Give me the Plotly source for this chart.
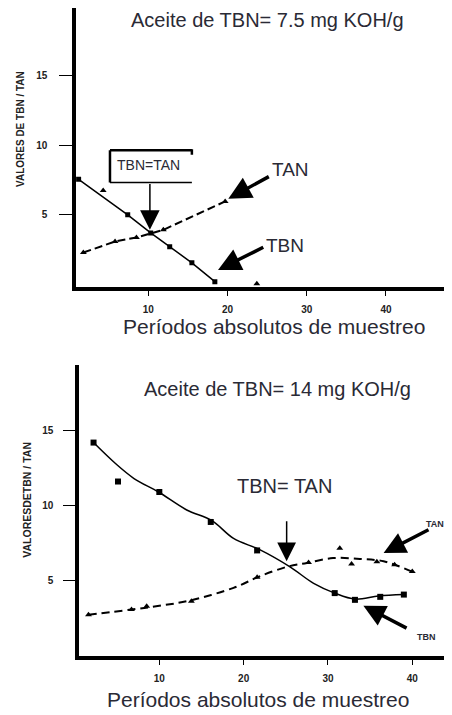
import plotly.graph_objects as go

# ---------------- data: top chart (TBN 7.5) ----------------
top_tbn_x = [1.2, 7.4, 10.3, 12.7, 15.5, 18.4]
top_tbn_y = [7.55, 5.0, 3.7, 2.7, 1.55, 0.2]
top_tbn_extra_x = [4.3, 23.7]
top_tbn_extra_y = [6.75, 0.05]
top_tan_x = [1.8, 5.8, 8.5, 11.9, 19.7]
top_tan_y = [2.29, 3.08, 3.37, 3.92, 5.96]

# ---------------- data: bottom chart (TBN 14) ----------------
bot_tbn_x = [2.2, 5.1, 10.0, 16.1, 21.6, 30.8, 33.2, 36.2, 39.0]
bot_tbn_y = [14.2, 11.6, 10.9, 8.9, 7.0, 4.15, 3.7, 3.9, 4.05]
bot_tbn_fit_x = [2.2, 4.8, 7.0, 9.9, 13.25, 16.2, 18.8, 21.9, 25.5, 28.3, 30.8, 33.2, 36.0, 39.0]
bot_tbn_fit_y = [14.2, 12.8, 11.8, 10.9, 9.7, 9.0, 7.8, 7.05, 5.9, 4.8, 4.15, 3.75, 3.95, 4.05]
bot_tan_x = [1.6, 6.7, 8.5, 13.8, 21.6, 27.7, 31.4, 32.8, 35.8, 37.9, 40.0]
bot_tan_y = [2.7, 3.05, 3.27, 3.6, 5.2, 6.2, 7.15, 6.1, 6.25, 6.05, 5.6]
bot_tan_fit_x = [1.6, 6.7, 10.0, 13.6, 18.8, 21.9, 25.3, 27.5, 30.6, 33.8, 36.6, 39.9]
bot_tan_fit_y = [2.7, 3.05, 3.3, 3.65, 4.5, 5.27, 5.93, 6.16, 6.49, 6.43, 6.27, 5.6]

x_ticks = [10, 20, 30, 40]
y_ticks = [5, 10, 15]

FONT = "Arial, Liberation Sans, sans-serif"
TXT = "#2a2a35"
OFF = 8                      # default page margin of the HTML body
W, H = 452 - OFF, 715 - OFF


def fx(px):
    return (px - OFF) / W


def fy(py):
    return 1 - (py - OFF) / H


fig = go.Figure()

# top chart traces
fig.add_trace(go.Scatter(x=top_tbn_x, y=top_tbn_y, mode="lines+markers",
                         line=dict(color="black", width=1.5),
                         marker=dict(symbol="square", size=5, color="black"),
                         xaxis="x", yaxis="y", showlegend=False))
fig.add_trace(go.Scatter(x=top_tbn_extra_x, y=top_tbn_extra_y, mode="markers",
                         marker=dict(symbol="triangle-up", size=6, color="black"),
                         xaxis="x", yaxis="y", showlegend=False))
fig.add_trace(go.Scatter(x=top_tan_x, y=top_tan_y, mode="lines+markers",
                         line=dict(color="black", width=2, dash="8px,4px"),
                         marker=dict(symbol="triangle-up", size=6, color="black"),
                         xaxis="x", yaxis="y", showlegend=False))

# bottom chart traces
fig.add_trace(go.Scatter(x=bot_tbn_fit_x, y=bot_tbn_fit_y, mode="lines",
                         line=dict(color="black", width=1.5, shape="spline"),
                         xaxis="x2", yaxis="y2", showlegend=False))
fig.add_trace(go.Scatter(x=bot_tbn_x, y=bot_tbn_y, mode="markers",
                         marker=dict(symbol="square", size=6, color="black"),
                         xaxis="x2", yaxis="y2", showlegend=False))
fig.add_trace(go.Scatter(x=bot_tan_fit_x, y=bot_tan_fit_y, mode="lines",
                         line=dict(color="black", width=2, dash="8px,5px", shape="spline"),
                         xaxis="x2", yaxis="y2", showlegend=False))
fig.add_trace(go.Scatter(x=bot_tan_x, y=bot_tan_y, mode="markers",
                         marker=dict(symbol="triangle-up", size=6, color="black"),
                         xaxis="x2", yaxis="y2", showlegend=False))

axis_common = dict(showgrid=False, zeroline=False, showline=True, linecolor="black",
                   linewidth=3.5, ticks="outside", tickcolor="black", tickwidth=1.2,
                   tickfont=dict(family=FONT, size=10, color="#222", weight="bold"))

fig.update_layout(
    width=W, height=H, margin=dict(l=0, r=0, t=0, b=0),
    paper_bgcolor="white", plot_bgcolor="white",
    xaxis=dict(domain=[fx(76), 1], range=[0.87, 48.34], tickvals=x_ticks, ticklen=6,
               ticklabelstandoff=5, anchor="y", **axis_common),
    yaxis=dict(domain=[fy(286.5), fy(8)], range=[-0.15, 19.85],
               tickvals=y_ticks, ticklen=13, ticklabelstandoff=10, anchor="x", **axis_common),
    xaxis2=dict(domain=[fx(79), 1], range=[0.474, 44.71], tickvals=x_ticks, ticklen=5,
                ticklabelstandoff=5, anchor="y2", **axis_common),
    yaxis2=dict(domain=[fy(656), fy(365)], range=[-0.05, 19.38], tickvals=y_ticks,
                ticklen=12, ticklabelstandoff=8, anchor="x2", **axis_common),
)

ann = []


def ptext(text, px, py, size, color=TXT, angle=0, weight="normal", xanchor="center"):
    ann.append(dict(text=text, x=fx(px), y=fy(py), xref="paper", yref="paper",
                    showarrow=False, xanchor=xanchor, yanchor="middle", textangle=angle,
                    font=dict(family=FONT, size=size, color=color, weight=weight)))


def arrow(xa, ya, tx, ty, hx, hy, width, size, head=2):
    ann.append(dict(text="", x=hx, y=hy, ax=tx, ay=ty, xref=xa, yref=ya, axref=xa, ayref=ya,
                    showarrow=True, arrowhead=head, arrowwidth=width, arrowsize=size,
                    arrowcolor="black"))


def dtext(xa, ya, text, x, y, size, weight="normal", xanchor="center"):
    ann.append(dict(text=text, x=x, y=y, xref=xa, yref=ya, showarrow=False,
                    xanchor=xanchor, yanchor="middle",
                    font=dict(family=FONT, size=size, color=TXT, weight=weight)))


# titles
ptext("Aceite de TBN= 7.5 mg KOH/g", 267, 20, 20)
ptext("Aceite de TBN= 14 mg KOH/g", 277.5, 389, 20)
ptext("Períodos absolutos de muestreo", 274, 327, 21)
ptext("Períodos absolutos de muestreo", 257.5, 699, 21)
ptext("VALORES DE TBN / TAN", 20, 129, 10, color="#222", angle=-90, weight="bold")
ptext("VALORESDETBN / TAN", 26.7, 500, 10.5, color="#222", angle=-90, weight="bold")

# top annotations
dtext("x", "y", "TBN=TAN", 9.97, 8.6, 14)
dtext("x", "y", "TAN", 27.9, 8.24, 19)
dtext("x", "y", "TBN", 27.3, 2.77, 19)
arrow("x", "y", 10.2, 7.32, 10.2, 3.92, 1.5, 2.6)
arrow("x", "y", 25.4, 7.8, 20.1, 6.15, 3.5, 1.3)
arrow("x", "y", 24.7, 2.72, 18.8, 1.04, 3.5, 1.3)

# bottom annotations
dtext("x2", "y2", "TBN= TAN", 24.9, 11.33, 20)
ptext("TAN", 446, 523.5, 9, weight="bold", xanchor="right")
dtext("x2", "y2", "TBN", 41.7, 1.21, 9, weight="bold")
arrow("x2", "y2", 25.1, 9.05, 25.1, 6.27, 1.5, 2.5)
arrow("x2", "y2", 42.1, 8.43, 36.6, 6.83, 3.5, 1.25)
arrow("x2", "y2", 39.5, 1.76, 34.2, 3.31, 3.5, 1.25)

fig.update_layout(annotations=ann)

# bracket box around TBN=TAN (top chart)
box = dict(xref="x", yref="y", line=dict(color="black", width=2.5))
shapes = [
    dict(type="line", x0=5.16, y0=9.63, x1=15.5, y1=9.63, **box),
    dict(type="line", x0=5.16, y0=9.63, x1=5.16, y1=7.32, **box),
    dict(type="line", x0=5.16, y0=7.32, x1=15.5, y1=7.32, xref="x", yref="y",
         line=dict(color="black", width=1.5)),
    dict(type="line", x0=15.5, y0=9.7, x1=15.5, y1=9.32, **box),
]
fig.update_layout(shapes=shapes)

fig.write_html("out.html")
